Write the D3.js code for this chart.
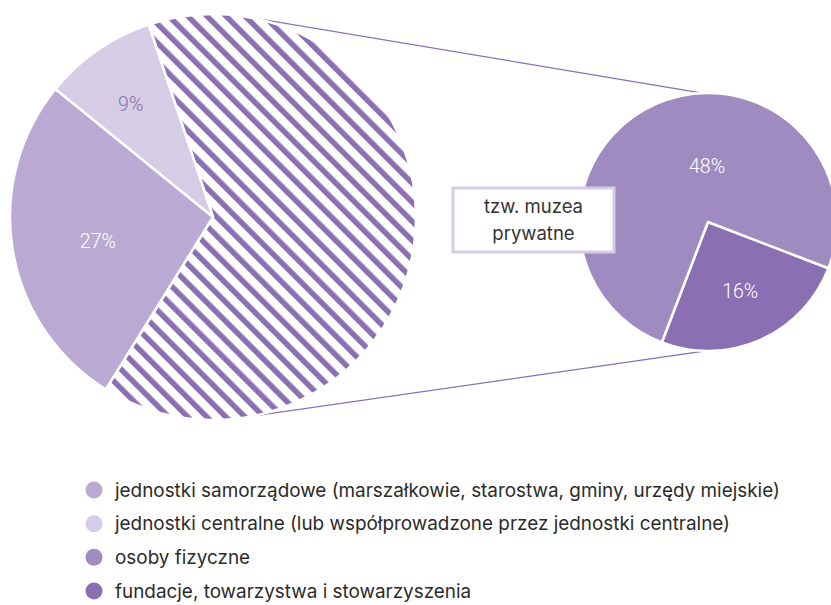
<!DOCTYPE html>
<html><head><meta charset="utf-8">
<script src="https://cdn.jsdelivr.net/npm/d3@7"></script>
<style>body{margin:0;background:#fff}svg{display:block}</style>
</head><body>
<svg id="c" width="831" height="605"></svg>
<script>
// ---- data ----
const leftCategories = ["tzw. muzea prywatne", "jednostki samorządowe (marszałkowie, starostwa, gminy, urzędy miejskie)", "jednostki centralne (lub współprowadzone przez jednostki centralne)"];
const leftValues = [64, 27, 9];
const leftLabels = ["", "27%", "9%"];
const rightCategories = ["fundacje, towarzystwa i stowarzyszenia", "osoby fizyczne"];
const rightValues = [16, 48];
const rightLabels = ["16%", "48%"];
const legendItems = ["jednostki samorządowe (marszałkowie, starostwa, gminy, urzędy miejskie)", "jednostki centralne (lub współprowadzone przez jednostki centralne)", "osoby fizyczne", "fundacje, towarzystwa i stowarzyszenia"];
const boxLines = ["tzw. muzea", "prywatne"];

// ---- style ----
const colorMap = {
  "jednostki samorządowe (marszałkowie, starostwa, gminy, urzędy miejskie)": "#baaad3",
  "jednostki centralne (lub współprowadzone przez jednostki centralne)": "#d5cce5",
  "osoby fizyczne": "#a08bc0",
  "fundacje, towarzystwa i stowarzyszenia": "#8a70b2",
  "tzw. muzea prywatne": "url(#hatch)"
};
const deg = Math.PI / 180;
const svg = d3.select("#c");

const defs = svg.append("defs");
const pat = defs.append("pattern").attr("id", "hatch").attr("patternUnits", "userSpaceOnUse")
  .attr("width", 13.5).attr("height", 13.5).attr("patternTransform", "rotate(-45)");
pat.append("rect").attr("width", 13.5).attr("height", 13.5).attr("fill", "#fff");
pat.append("rect").attr("width", 5.5).attr("height", 13.5).attr("fill", "#8a70b2");

const L = {cx: 213, cy: 217, r: 203};
const R = {cx: 708, cy: 222, r: 129};

// connecting lines (from left pie edge to right pie top/bottom)
const lp1 = d3.pointRadial(10.5 * deg, L.r), lp2 = d3.pointRadial(168.7 * deg, L.r);
const rp1 = d3.pointRadial(-2.5 * deg, R.r), rp2 = d3.pointRadial(181 * deg, R.r);
[[lp1, rp1], [lp2, rp2]].forEach(([a, b]) => {
  svg.append("line").attr("x1", L.cx + a[0]).attr("y1", L.cy + a[1])
    .attr("x2", R.cx + b[0]).attr("y2", R.cy + b[1])
    .attr("stroke", "#8a70b2").attr("stroke-width", 1.3);
});

// left pie
const leftPie = d3.pie().sort(null).startAngle(-18.5 * deg).endAngle(341.5 * deg);
const leftArcs = leftPie(leftValues);
const arcL = d3.arc().innerRadius(0).outerRadius(L.r);
const gL = svg.append("g").attr("transform", `translate(${L.cx},${L.cy})`);
gL.selectAll("path").data(leftArcs).join("path")
  .attr("d", arcL)
  .attr("fill", (d, i) => colorMap[leftCategories[i]])
  .attr("stroke", "#fff").attr("stroke-width", 2.5).attr("stroke-linejoin", "round");
const leftLabelPos = [null, {a: 258, r: 0.58}, {a: -36, r: 0.69}];
const leftLabelColor = [null, "#fff", "#8a70b2"];
const pctFont = "Roboto, Liberation Sans, Arial, sans-serif";
leftArcs.forEach((d, i) => {
  if (!leftLabels[i]) return;
  const p = d3.pointRadial(leftLabelPos[i].a * deg, leftLabelPos[i].r * L.r);
  gL.append("text").attr("x", p[0]).attr("y", p[1]).attr("dy", "0.35em")
    .attr("text-anchor", "middle").attr("font-family", pctFont).attr("font-weight", 300)
    .attr("font-size", 19.5).attr("fill", leftLabelColor[i]).text(leftLabels[i]);
});

// right pie
const rightPie = d3.pie().sort(null).startAngle(111 * deg).endAngle(471 * deg);
const rightArcs = rightPie(rightValues);
const arcR = d3.arc().innerRadius(0).outerRadius(R.r);
const gR = svg.append("g").attr("transform", `translate(${R.cx},${R.cy})`);
gR.selectAll("path").data(rightArcs).join("path")
  .attr("d", arcR)
  .attr("fill", (d, i) => colorMap[rightCategories[i]])
  .attr("stroke", "#fff").attr("stroke-width", 2.5).attr("stroke-linejoin", "round");
const rightLabelPos = [{a: 155, r: 0.59}, {a: -1, r: 0.43}];
rightArcs.forEach((d, i) => {
  const p = d3.pointRadial(rightLabelPos[i].a * deg, rightLabelPos[i].r * R.r);
  gR.append("text").attr("x", p[0]).attr("y", p[1]).attr("dy", "0.35em")
    .attr("text-anchor", "middle").attr("font-family", pctFont).attr("font-weight", 300)
    .attr("font-size", 19.5).attr("fill", "#fff").text(rightLabels[i]);
});

// label box
const box = svg.append("g").attr("transform", "translate(453,188)");
box.append("rect").attr("width", 161).attr("height", 64).attr("fill", "#fff")
  .attr("stroke", "#d5cce5").attr("stroke-width", 3);
box.selectAll("text").data(boxLines).join("text")
  .attr("x", 80.5).attr("y", (d, i) => 19 + i * 27).attr("dy", "0.35em")
  .attr("text-anchor", "middle").attr("font-family", "Inter, Noto Sans, sans-serif")
  .attr("font-size", 18.5).attr("fill", "#333").text(d => d);

// legend
const ly = d3.scalePoint().domain(legendItems).range([490, 591]);
const lg = svg.append("g");
lg.selectAll("circle").data(legendItems).join("circle")
  .attr("cx", 94).attr("cy", d => ly(d)).attr("r", 8.5).attr("fill", d => colorMap[d]);
lg.selectAll("text").data(legendItems).join("text")
  .attr("x", 115).attr("y", d => ly(d)).attr("dy", "0.35em")
  .attr("font-family", "Inter, Noto Sans, sans-serif").attr("font-size", 18.9)
  .attr("fill", "#2b2b2b").text(d => d);
</script>
</body></html>
